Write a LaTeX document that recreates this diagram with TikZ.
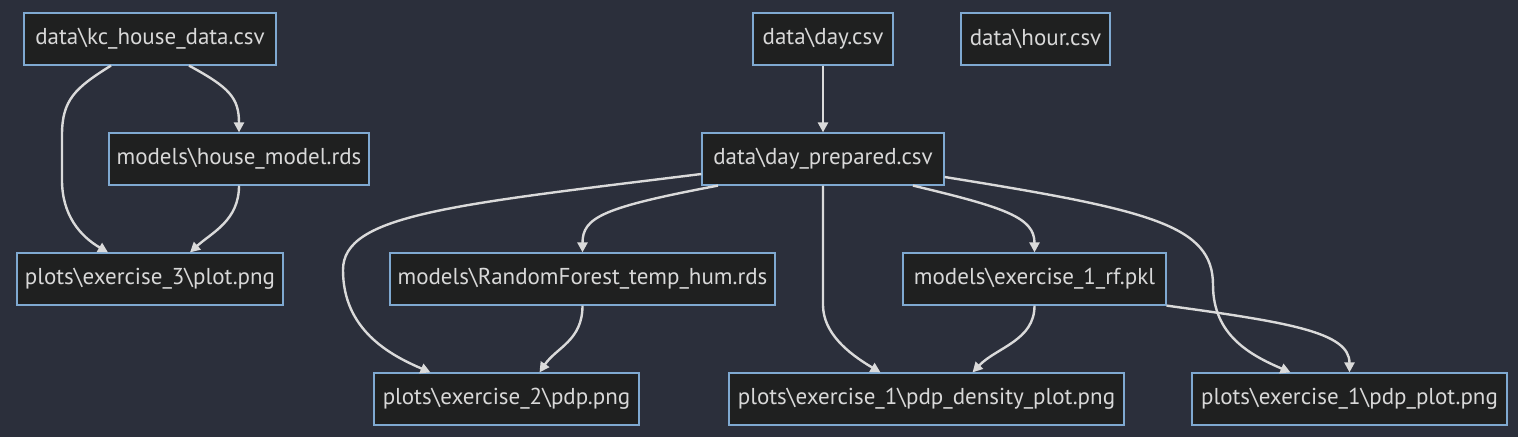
\documentclass[tikz,border=0pt]{standalone}
\usepackage{fontspec}
\setmainfont{PT Sans}
\usetikzlibrary{arrows.meta,calc}
\definecolor{bgc}{HTML}{2B2F3B}
\definecolor{boxfill}{HTML}{1F2020}
\definecolor{boxline}{HTML}{7FA9D1}
\definecolor{txt}{HTML}{D8D8D8}
\definecolor{edge}{HTML}{DADADA}
\begin{document}
\begin{tikzpicture}[x=0.5pt,y=-0.5pt,
  box/.style={draw=boxline,fill=boxfill,line width=0.6pt,text=txt,font=\fontsize{11.5pt}{13pt}\selectfont,minimum height=26pt,inner sep=0pt},
  bw/.style={minimum width=#1*0.5pt},
  conn/.style={draw=edge,line width=1.2pt,-{Triangle[length=5pt,width=5pt]}}]
\fill[bgc] (0,0) rectangle (1518,437);
\useasboundingbox (0,0) rectangle (1518,437);
\node[box,bw=252] (kc) at (150,39) {data\textbackslash kc\_house\_data.csv};
\node[box,bw=260] (hm) at (239,159) {models\textbackslash house\_model.rds};
\node[box,bw=266] (p3) at (150,279) {plots\textbackslash exercise\_3\textbackslash plot.png};
\node[box,bw=140] (day) at (823,39) {data\textbackslash day.csv};
\node[box,bw=149] (hour) at (1035.5,39) {data\textbackslash hour.csv};
\node[box,bw=242] (dp) at (823,159) {data\textbackslash day\_prepared.csv};
\node[box,bw=385] (rf) at (582.5,279) {models\textbackslash RandomForest\_temp\_hum.rds};
\node[box,bw=263] (pkl) at (1034.5,279) {models\textbackslash exercise\_1\_rf.pkl};
\node[box,bw=265] (e2) at (506.5,399) {plots\textbackslash exercise\_2\textbackslash pdp.png};
\node[box,bw=395] (dens) at (926.5,399) {plots\textbackslash exercise\_1\textbackslash pdp\_density\_plot.png};
\node[box,bw=315] (pp) at (1349.5,399) {plots\textbackslash exercise\_1\textbackslash pdp\_plot.png};
% edges
\draw[conn] ($(kc.south)+(-39,0)$) .. controls (75,88) and (62,100) .. (62,135) -- (62,180) .. controls (62,215) and (80,236) .. ($(p3.north)+(-42,0)$);
\draw[conn] ($(kc.south)+(39,0)$) .. controls ($(hm.north)+(-10,-45)$) and ($(hm.north)+(0,-35)$) .. (hm.north);
\draw[conn] (hm.south) .. controls ($(hm.south)+(0,35)$) and ($(p3.north)+(62,-20)$) .. ($(p3.north)+(40,0)$);
\draw[conn] (day.south) -- (dp.north);
\draw[conn] ($(dp.west)+(0,15)$) .. controls (450,205) and (343,215) .. (343,270) .. controls (343,330) and (390,355) .. ($(e2.north)+(-76,0)$);
\draw[conn] ($(dp.south)+(-105,0)$) .. controls ($(rf.north)+(20,-45)$) and ($(rf.north)+(0,-35)$) .. (rf.north);
\draw[conn] (dp.south) -- ($(dp.south)+(0,120)$) .. controls ($(dens.north)+(-103,-40)$) and ($(dens.north)+(-80,-20)$) .. ($(dens.north)+(-46,0)$);
\draw[conn] ($(dp.south)+(90,0)$) .. controls ($(pkl.north)+(-30,-45)$) and ($(pkl.north)+(0,-35)$) .. (pkl.north);
\draw[conn] ($(dp.east)+(0,18)$) .. controls (1150,210) and (1213,225) .. (1213,285) .. controls (1213,335) and (1250,355) .. ($(pp.north)+(-59,0)$);
\draw[conn] (rf.south) .. controls ($(rf.south)+(0,35)$) and ($(e2.north)+(50,-25)$) .. ($(e2.north)+(33,0)$);
\draw[conn] (pkl.south) .. controls ($(pkl.south)+(0,35)$) and ($(dens.north)+(70,-25)$) .. ($(dens.north)+(46,0)$);
\draw[conn] (pkl.south east) .. controls ($(pp.north)+(-60,-50)$) and ($(pp.north)+(0,-40)$) .. (pp.north);
\end{tikzpicture}
\end{document}
